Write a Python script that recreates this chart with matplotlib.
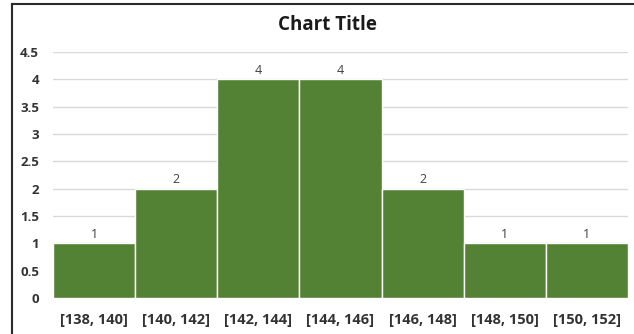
import matplotlib
matplotlib.use("Agg")
import matplotlib.pyplot as plt
from matplotlib.lines import Line2D

# ── Data ───────────────────────────────────────────────────────────────────────

bins   = ["[138, 140]", "[140, 142]", "[142, 144]", "[144, 146]",
          "[146, 148]", "[148, 150]", "[150, 152]"]
counts = [1, 2, 4, 4, 2, 1, 1]
yticks = [0, 0.5, 1, 1.5, 2, 2.5, 3, 3.5, 4, 4.5]

BAR_COLOR  = "#548235"
TEXT_COLOR = "#333333"

plt.rcParams["font.family"] = ["Open Sans", "DejaVu Sans"]

W, H = 634, 334
fig = plt.figure(figsize=(W / 100, H / 100), dpi=100)
ax = fig.add_axes([53 / W, 1 - 298 / H, (628 - 53) / W, (298 - 52) / H])

x = list(range(len(bins)))
bars = ax.bar(x, counts, width=1.0, color=BAR_COLOR, edgecolor="white",
              linewidth=1.0, zorder=3)

for xi, c in zip(x, counts):
    ax.text(xi, c + 0.04, f"{c}", ha="center", va="bottom",
            fontsize=9, color="#404040", zorder=4)

ax.set_xlim(-0.5, len(bins) - 0.5)
ax.set_ylim(0, 4.5)
ax.set_yticks(yticks)
ax.set_yticklabels([f"{t:g}" for t in yticks], fontsize=9.5,
                   fontweight="bold", color=TEXT_COLOR)
ax.set_xticks(x)
ax.set_xticklabels(bins, fontsize=10.5, fontweight="bold", color=TEXT_COLOR)
ax.tick_params(axis="both", length=0)
ax.tick_params(axis="x", pad=11)
ax.tick_params(axis="y", pad=10)

ax.grid(axis="y", color="#d9d9d9", lw=1.0, zorder=0)
for side in ("top", "right", "left", "bottom"):
    ax.spines[side].set_visible(False)

fig.text(327 / W, 1 - 25 / H, "Chart Title", ha="center", va="center",
         fontsize=13.5, fontweight="bold", color="#1a1a1a")

# outer frame (left and top edges)
fig.add_artist(Line2D([12 / W, 12 / W], [0, 1 - 4 / H], transform=fig.transFigure,
                      color="#2b2b2b", lw=1.5))
fig.add_artist(Line2D([12 / W, 1], [1 - 4 / H, 1 - 4 / H], transform=fig.transFigure,
                      color="#2b2b2b", lw=1.5))

fig.savefig("out.png", dpi=100)
